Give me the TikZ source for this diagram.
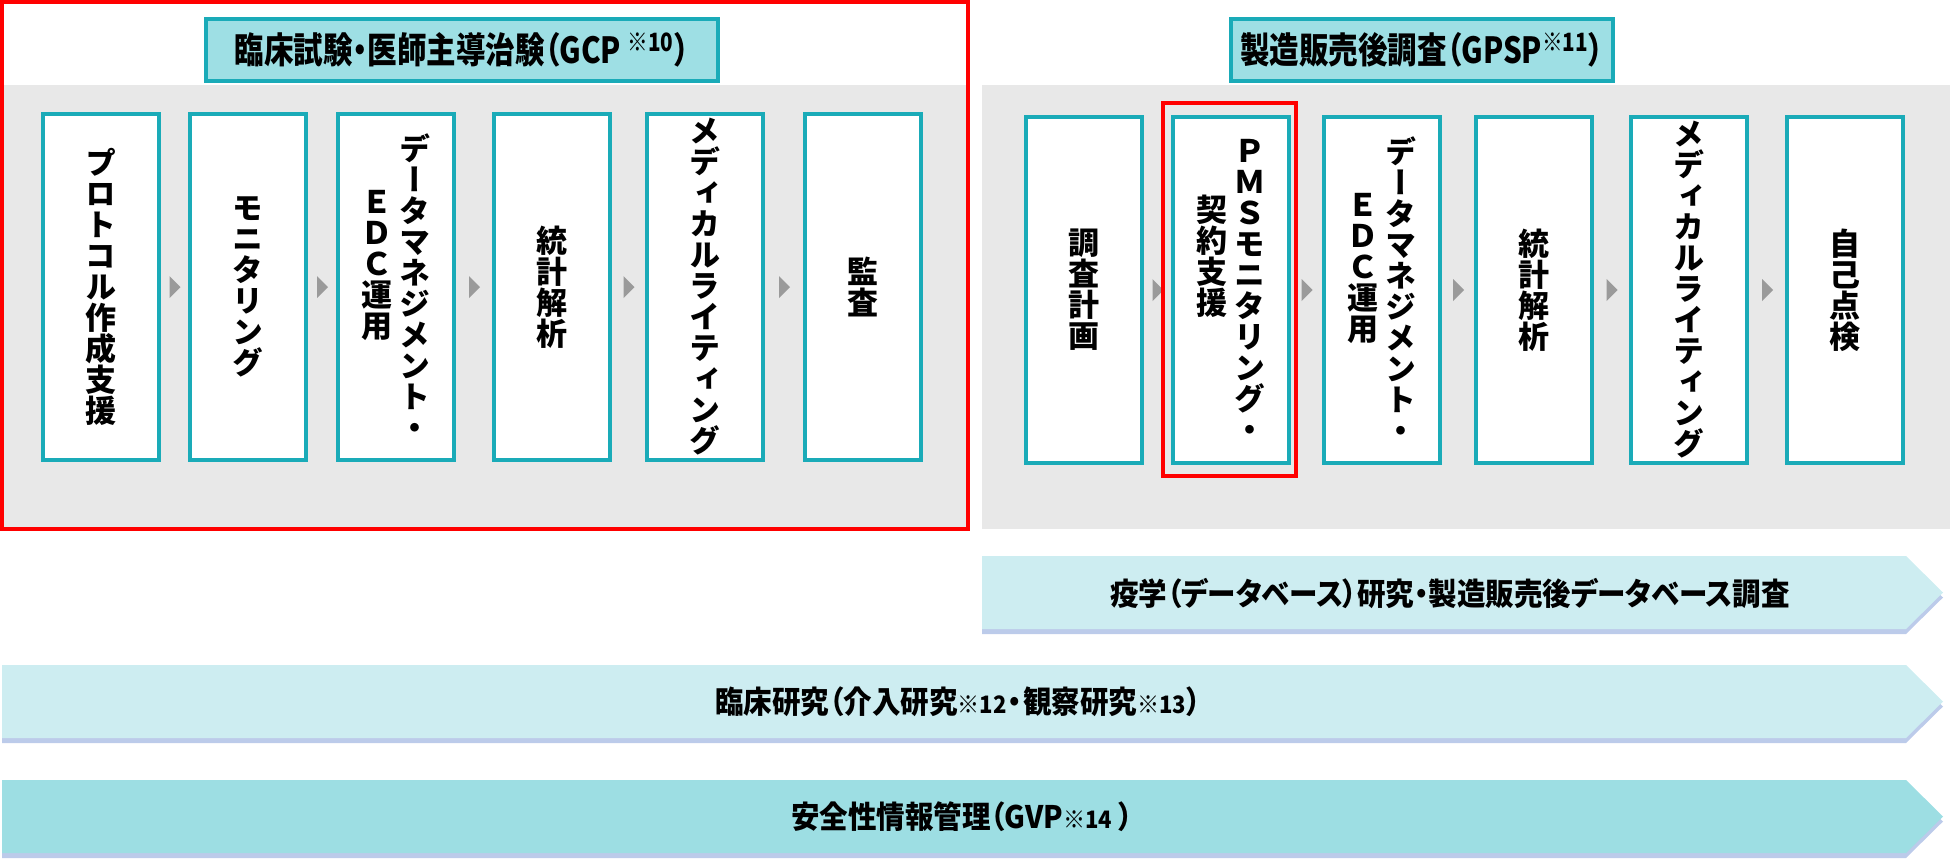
\documentclass[tikz,border=0pt]{standalone}
\usepackage{fontspec}
\setmainfont{Noto Sans CJK JP}
\newfontfamily\jptate[RawFeature=+vert]{Noto Sans CJK JP}
\newfontfamily\jphead[FakeStretch=0.82,RawFeature=+palt]{Noto Sans CJK JP}
\newfontfamily\jpbar[FakeStretch=0.92,RawFeature=+palt]{Noto Sans CJK JP}
\newfontfamily\jpbarfw[FakeStretch=0.92]{Noto Sans CJK JP}
\usetikzlibrary{calc}

\definecolor{tealline}{HTML}{1AABB8}
\definecolor{headfill}{HTML}{9EDFE4}
\definecolor{panelgray}{HTML}{E8E8E8}
\definecolor{barlight}{HTML}{CDEDF1}
\definecolor{bardark}{HTML}{9DDEE3}
\definecolor{barshadow}{HTML}{BCCBEA}
\definecolor{trigray}{HTML}{9A9A9A}
\definecolor{markred}{HTML}{FF0000}

\newcommand{\kome}[1]{\textsuperscript{※#1}}
\newcommand{\komesm}[1]{{\fontsize{12pt}{12pt}\selectfont ※#1}}
\newcommand{\nakaguro}{\kern-3pt{\jpbarfw\bfseries ・}\kern-3pt}

% one vertical column of text, one character per line
\ExplSyntaxOn
\NewDocumentCommand\tate{m}{
  \parbox[t]{1.2em}{\centering\lineskiplimit=-20pt
    \tl_map_inline:nn {#1} { ##1 \par }}
}
\ExplSyntaxOff

% small grey triangle between two step boxes
\newcommand{\steptri}[2]{%
  \fill[trigray] ($(#1.east)!0.5!(#2.west)+(-5,-11)$) -- ++(11,11) -- ++(-11,11) -- cycle;}

% arrow-shaped band: left, top, shoulder, tip, bottom, colour
\newcommand{\band}[6]{%
  \fill[barshadow] (#1,#2+5) -- (#3,#2+5) -- (#4,{(#2+#5)/2+5}) -- (#3,#5+5) -- (#1,#5+5) -- cycle;
  \fill[#6] (#1,#2) -- (#3,#2) -- (#4,{(#2+#5)/2}) -- (#3,#5) -- (#1,#5) -- cycle;}

\begin{document}
\begin{tikzpicture}[
  x=0.5pt, y=-0.5pt,
  stepbox/.style={draw=tealline, line width=2pt, fill=white,
                  minimum width=58pt, minimum height=173pt, inner sep=0pt},
  vcol/.style={font=\jptate\bfseries\fontsize{15.5pt}{15.5pt}\selectfont,
               inner sep=0pt},
  headbox/.style={draw=tealline, line width=2pt, fill=headfill,
                  minimum height=31pt, inner sep=0pt,
                  font=\jphead\bfseries\fontsize{18pt}{18pt}\selectfont},
  bartext/.style={font=\jpbar\bfseries\fontsize{15.5pt}{15.5pt}\selectfont},
]
\useasboundingbox (0,0) rectangle (1950,859);

% grey panels
\fill[panelgray] (2,85) rectangle (968,529);
\fill[panelgray] (982,85) rectangle (1950,529);

% headers
\node[headbox, minimum width=256pt] (gcp) at (462,50) {臨床試験・医師主導治験（GCP \kome{10}）};
\node[headbox, minimum width=191pt] (gpsp) at (1422,50) {製造販売後調査（GPSP\kome{11}）};

% GCP row
\node[stepbox] (c1) at (101,287) {};
\node[stepbox] (c2) at (248,287) {};
\node[stepbox] (c3) at (396,287) {};
\node[stepbox] (c4) at (552,287) {};
\node[stepbox] (c5) at (705,287) {};
\node[stepbox] (c6) at (863,287) {};
\node[vcol] (c1t) at (c1) {\tate{プロトコル作成支援}};
\node[vcol] (c2t) at (c2) {\tate{モニタリング}};
\node[vcol] (c3t) at ($(c3)+(19,0)$) {\tate{データマネジメント・}};
\node[vcol, anchor=north] (c3u) at ($(c3t.north)+(-38,56)$) {\tate{ＥＤＣ運用}};
\node[vcol] (c4t) at (c4) {\tate{統計解析}};
\node[vcol] (c5t) at (c5) {\tate{メディカルライティング}};
\node[vcol] (c6t) at (c6) {\tate{監査}};
\steptri{c1}{c2}
\steptri{c2}{c3}
\steptri{c3}{c4}
\steptri{c4}{c5}
\steptri{c5}{c6}

% GPSP row
\node[stepbox] (p1) at (1084,290) {};
\node[stepbox] (p2) at (1231,290) {};
\node[stepbox] (p3) at (1382,290) {};
\node[stepbox] (p4) at (1534,290) {};
\node[stepbox] (p5) at (1689,290) {};
\node[stepbox] (p6) at (1845,290) {};
\node[vcol] (p1t) at (p1) {\tate{調査計画}};
\node[vcol] (p2t) at ($(p2)+(19,0)$) {\tate{ＰＭＳモニタリング・}};
\node[vcol, anchor=north] (p2u) at ($(p2t.north)+(-38,56)$) {\tate{契約支援}};
\node[vcol] (p3t) at ($(p3)+(19,0)$) {\tate{データマネジメント・}};
\node[vcol, anchor=north] (p3u) at ($(p3t.north)+(-38,56)$) {\tate{ＥＤＣ運用}};
\node[vcol] (p4t) at (p4) {\tate{統計解析}};
\node[vcol] (p5t) at (p5) {\tate{メディカルライティング}};
\node[vcol] (p6t) at (p6) {\tate{自己点検}};
\steptri{p1}{p2}
\steptri{p2}{p3}
\steptri{p3}{p4}
\steptri{p4}{p5}
\steptri{p5}{p6}

% red highlights
\draw[markred, line width=1.6pt] (2,2) rectangle (968,529);
\draw[markred, line width=1.6pt] (1163,103) rectangle (1296,476);

% bands
\band{982}{556}{1906}{1943}{629}{barlight}
\band{2}{665}{1906}{1943}{738}{barlight}
\band{2}{780}{1906}{1943}{853}{bardark}
\node[bartext] (epi) at (1450,593) {疫学（データベース）研究・製造販売後データベース調査};
\node[bartext] (clin) at (958,702) {臨床研究（介入研究\komesm{12}\nakaguro 観察研究\komesm{13}）};
\node[bartext] (gvp) at (962,817) {安全性情報管理（GVP\komesm{14} ）};
\end{tikzpicture}
\end{document}
